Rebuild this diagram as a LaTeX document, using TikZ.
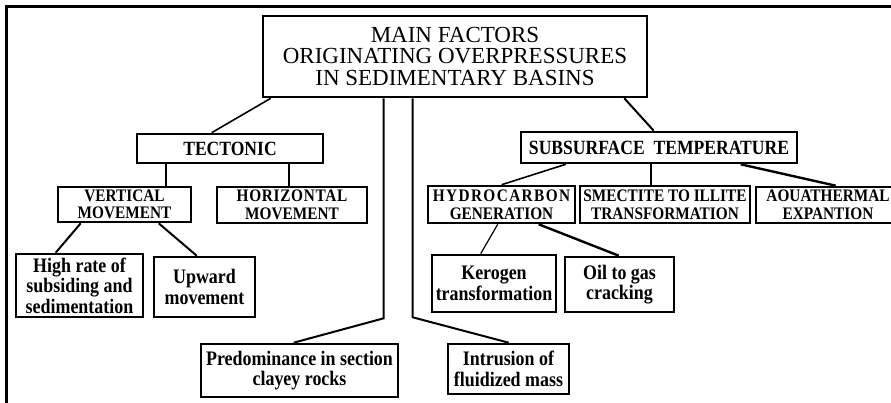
\documentclass[tikz,border=0pt]{standalone}
\usepackage{fontspec}
\setmainfont{Liberation Serif}
\newfontfamily\bcond{Liberation Serif}[UprightFont=* Bold, FakeStretch=0.87]
\begin{document}
\begin{tikzpicture}[x=1pt,y=-1pt,
  box/.style={draw, line width=2.6pt, inner sep=0pt, align=center, anchor=center},
  capsA/.style={font=\fontsize{20.2}{20}\bcond},
  capsB/.style={font=\fontsize{17.6}{17.6}\bcond},
  lower/.style={font=\fontsize{20.6}{20.6}\bcond},
  conn/.style={line width=2pt},
  frame/.style={line width=3pt}]
\useasboundingbox (0,0) rectangle (891,403);
\draw[frame] (6.5,403) -- (6.5,6.5) -- (895,6.5);
% main
\node[box, minimum width=384pt, minimum height=81pt,
  font=\fontsize{23}{21.5}\selectfont] (main) at (455,56.5)
  {MAIN FACTORS\\ORIGINATING OVERPRESSURES\\IN SEDIMENTARY BASINS};
% level 1
\node[box, capsA, minimum width=186pt, minimum height=29pt] (tect) at (230,148.5) {TECTONIC};
\node[box, capsA, minimum width=276pt, minimum height=31pt] (st) at (659,147.5) {SUBSURFACE\ \ TEMPERATURE};
% level 2
\node[box, capsB, minimum width=133pt, minimum height=35pt] (vm) at (124.5,204.5) {VERTICAL\\MOVEMENT};
\node[box, capsB, minimum width=150pt, minimum height=36pt] (hm) at (292,205) {{\addfontfeature{LetterSpace=4}HORIZONTAL}\\MOVEMENT};
\node[box, capsB, minimum width=147pt, minimum height=37pt] (hc) at (501.5,204.5) {{\addfontfeature{LetterSpace=8}HYDROCARBON}\\GENERATION};
\node[box, capsB, minimum width=170pt, minimum height=37pt] (sm) at (665,204.5) {SMECTITE TO ILLITE\\TRANSFORMATION};
\node[box, capsB, minimum width=144pt, minimum height=36pt] (aq) at (828,205) {AOUATHERMAL\\EXPANTION};
% level 3
\node[box, lower, minimum width=127pt, minimum height=63pt] (hr) at (79.5,285.5) {High rate of\\subsiding and\\sedimentation};
\node[box, lower, minimum width=101pt, minimum height=60pt] (up) at (204.5,287) {Upward\\movement};
\node[box, lower, minimum width=124pt, minimum height=57pt] (ker) at (494,283.5) {Kerogen\\transformation};
\node[box, lower, minimum width=109pt, minimum height=55pt] (oil) at (619.5,284.5) {Oil to gas\\cracking};
\node[box, lower, minimum width=197pt, minimum height=53pt] (pre) at (299.5,370.5) {Predominance in section\\clayey rocks};
\node[box, lower, minimum width=121pt, minimum height=50pt] (intr) at (508.5,369) {Intrusion of\\fluidized mass};
% connectors
\draw[conn, line width=1.6pt] ([xshift=9pt]main.south west) -- ([xshift=76pt]tect.north west);
\draw[conn] ([xshift=-24pt]main.south east) -- ([xshift=134pt]st.north west);
\draw[conn] ([xshift=122pt]main.south west) -- ++(0,220) -- ([xshift=94pt]pre.north west);
\draw[conn] ([xshift=151pt]main.south west) -- ++(0,219) -- ([xshift=62pt]intr.north west);
\draw[conn] ([xshift=30pt]tect.south west) -- ([xshift=109pt]vm.north west);
\draw[conn] ([xshift=153pt]tect.south west) -- ([xshift=73pt]hm.north west);
\draw[conn] ([xshift=24pt]vm.south west) -- ([xshift=41pt]hr.north west);
\draw[conn] ([xshift=102pt]vm.south west) -- ([xshift=44pt]up.north west);
\draw[conn, line width=1.6pt] ([xshift=46pt]st.south west) -- ([xshift=75pt]hc.north west);
\draw[conn] ([xshift=131pt]st.south west) -- ([xshift=72pt]sm.north west);
\draw[conn, line width=2.4pt] ([xshift=221pt]st.south west) -- ([xshift=81pt]aq.north west);
\draw[conn, line width=1.2pt] ([xshift=71pt]hc.south west) -- ([xshift=50pt]ker.north west);
\draw[conn, line width=2.4pt] ([xshift=112pt]hc.south west) -- ([xshift=55pt]oil.north west);
\end{tikzpicture}
\end{document}
